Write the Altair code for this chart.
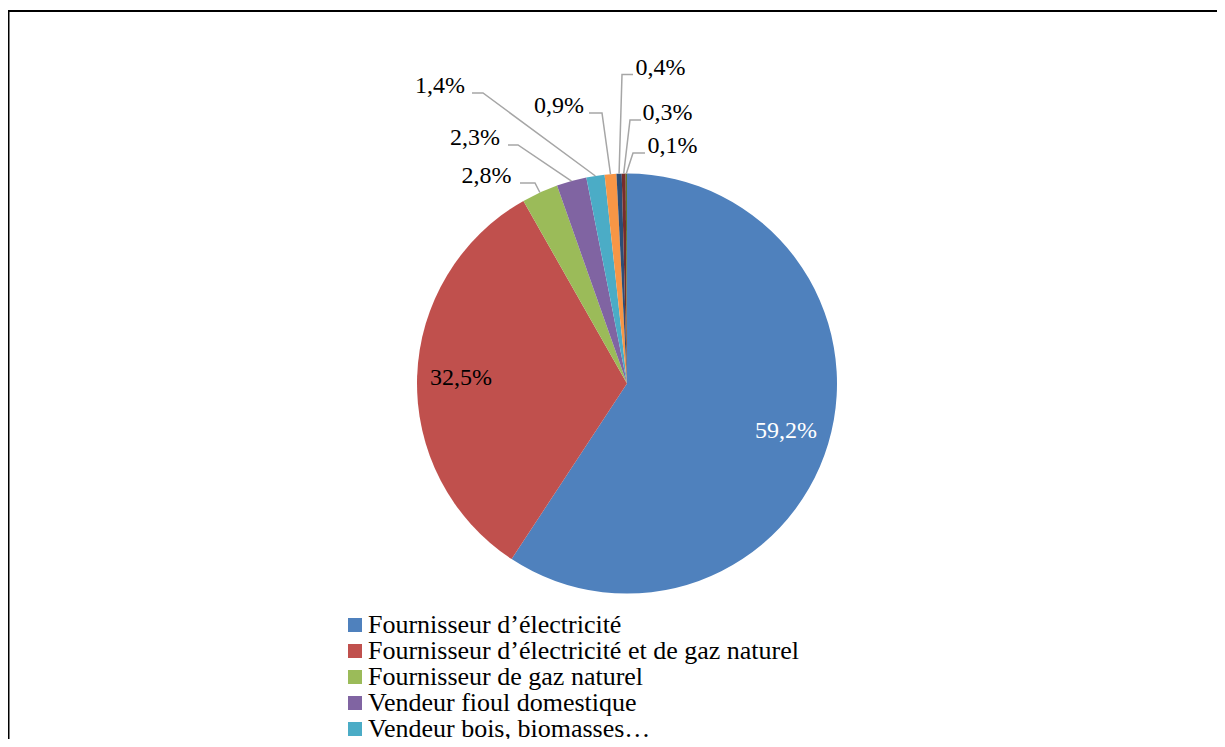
import math
import altair as alt
import pandas as pd

# ---------------- data ----------------
categories = [
    "Fournisseur d’électricité",
    "Fournisseur d’électricité et de gaz naturel",
    "Fournisseur de gaz naturel",
    "Vendeur fioul domestique",
    "Vendeur bois, biomasses…",
    "Vendeur de GPL",
    "Fournisseur de chaleur (réseau)",
    "Vendeur de charbon",
    "Autre",
]
shares = [59.2, 32.5, 2.8, 2.3, 1.4, 0.9, 0.4, 0.3, 0.1]
colors = ["#4F81BD", "#C0504D", "#9BBB59", "#8064A2", "#4BACC6",
          "#F79646", "#2C4D75", "#772C2A", "#5F7530"]

# ---------------- layout ----------------
W, H = 1209, 731
CX, CY, R = 619, 375.6, 210
INNER_R = 166
FONT = "Liberation Serif, Times New Roman, DejaVu Serif, serif"

# outer label layout for the small slices (index 2..8): label centre x, baseline y,
# outer end of the leader's short horizontal stub, elbow x
out_idx = [2, 3, 4, 5, 6, 7, 8]
out_lx = [478.5, 467, 432, 551, 652.5, 659.5, 664.5]
out_ly = [175, 137, 85, 105, 66.5, 112, 145]
out_stub = [512, 500, 464, 581, 625, 633, 637]
out_elbow = [527, 510, 475, 594, 614, 622, 625]

def fmt(v):
    return f"{v:.1f}".replace(".", ",") + "%"

total = sum(shares)
df = pd.DataFrame({
    "category": categories,
    "share": shares,
    "order": list(range(len(categories))),
    "inner": [fmt(v) if v > 10 else "" for v in shares],
})

# leader lines from data: slice mid-angle edge point
rows_lead, rows_lab = [], []
cum = 0.0
mids = []
for v in shares:
    mids.append(2 * math.pi * (cum + v / 2) / total)
    cum += v
for k, i in enumerate(out_idx):
    th = mids[i]
    ex = CX + R * math.sin(th)
    ey = CY - R * math.cos(th)
    lab = fmt(shares[i])
    y = out_ly[k]
    rows_lead += [
        {"label": lab, "pt": 0, "x": out_stub[k], "y": y},
        {"label": lab, "pt": 1, "x": out_elbow[k], "y": y},
        {"label": lab, "pt": 2, "x": ex, "y": ey},
    ]
    rows_lab.append({"label": lab, "x": out_lx[k], "y": y})
df_lead = pd.DataFrame(rows_lead)
df_lab = pd.DataFrame(rows_lab)

xs = alt.Scale(domain=[0, W], nice=False, zero=False)
ys = alt.Scale(domain=[0, H], nice=False, zero=False, reverse=True)

one = pd.DataFrame({"k": [0]})
frame_top = alt.Chart(one).mark_rule(color="black", strokeWidth=2).encode(
    x=alt.value(0), x2=alt.value(W), y=alt.value(3))
frame_left = alt.Chart(one).mark_rule(color="black", strokeWidth=2).encode(
    x=alt.value(0.5), y=alt.value(3), y2=alt.value(H))

arc = alt.Chart(df).mark_arc(outerRadius=R).encode(
    theta=alt.Theta("share:Q", stack=True),
    order=alt.Order("order:Q"),
    color=alt.Color(
        "category:N",
        scale=alt.Scale(domain=categories, range=colors),
        legend=alt.Legend(
            title=None, orient="none", legendX=334, legendY=604,
            direction="vertical", symbolType="square", symbolSize=196,
            symbolStrokeWidth=0, labelFont=FONT, labelFontSize=26,
            labelColor="black", labelOffset=0, rowPadding=0, labelLimit=0,
        ),
    ),
    x=alt.value(CX), y=alt.value(CY),
)

inner_text = alt.Chart(df).mark_text(
    radius=INNER_R, font=FONT, fontSize=24, align="center", baseline="middle"
).encode(
    theta=alt.Theta("share:Q", stack=True),
    order=alt.Order("order:Q"),
    text="inner:N",
    color=alt.condition("datum.order == 0", alt.value("white"), alt.value("black")),
    x=alt.value(CX), y=alt.value(CY),
)

leaders = alt.Chart(df_lead).mark_line(color="#A6A6A6", strokeWidth=1.5).encode(
    x=alt.X("x:Q", scale=xs, axis=None),
    y=alt.Y("y:Q", scale=ys, axis=None),
    detail="label:N",
    order="pt:Q",
)

outer_text = alt.Chart(df_lab).mark_text(
    font=FONT, fontSize=24, align="center", baseline="alphabetic", color="black"
).encode(
    x=alt.X("x:Q", scale=xs, axis=None),
    y=alt.Y("y:Q", scale=ys, axis=None),
    text="label:N",
)

chart = alt.layer(frame_top, frame_left, arc, inner_text, leaders, outer_text).properties(
    width=W, height=H, padding=0,
    autosize=alt.AutoSizeParams(type="none"),
    background="white",
).configure_view(strokeWidth=0)

chart.save("out.html", embed_options={"renderer": "svg", "actions": False})
